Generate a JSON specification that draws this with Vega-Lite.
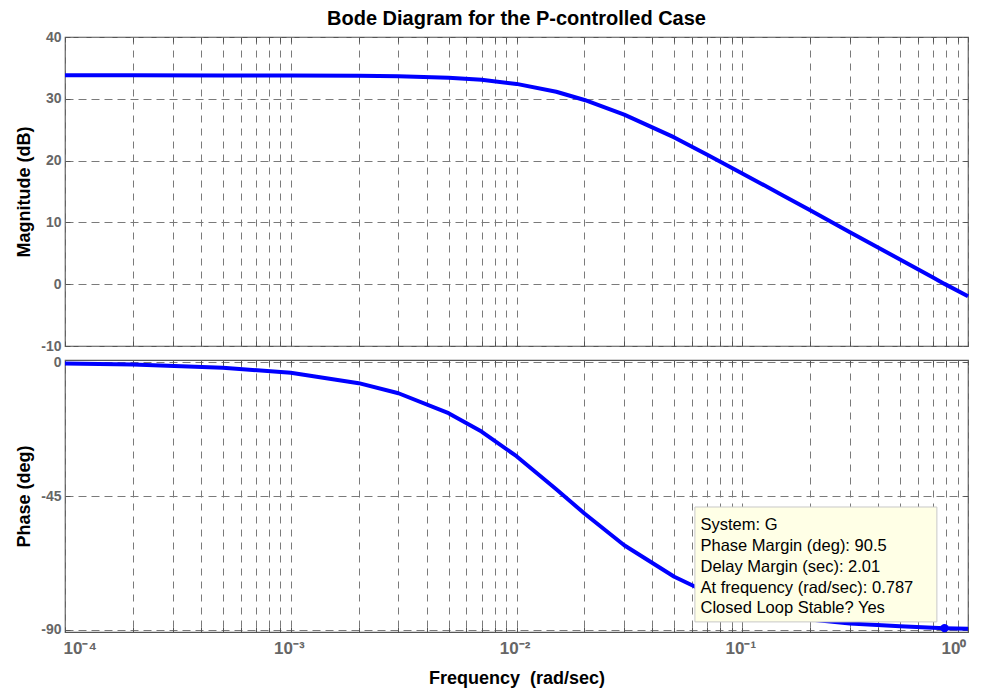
{
  "$schema": "https://vega.github.io/schema/vega-lite/v6.json",
  "background": "white",
  "padding": {"left": 15, "top": 8, "right": 5, "bottom": 5},
  "spacing": 14,
  "bounds": "flush",
  "datasets": {
    "bode": [
      {"w": 0.0001, "mag": 33.80, "phase": -0.4},
      {"w": 0.0002, "mag": 33.80, "phase": -0.7},
      {"w": 0.0005, "mag": 33.79, "phase": -1.8},
      {"w": 0.001, "mag": 33.78, "phase": -3.5},
      {"w": 0.002, "mag": 33.74, "phase": -7.0},
      {"w": 0.003, "mag": 33.66, "phase": -10.4},
      {"w": 0.005, "mag": 33.41, "phase": -17.1},
      {"w": 0.007, "mag": 33.07, "phase": -23.3},
      {"w": 0.01, "mag": 32.41, "phase": -31.6},
      {"w": 0.015, "mag": 31.14, "phase": -42.7},
      {"w": 0.02, "mag": 29.81, "phase": -50.9},
      {"w": 0.03, "mag": 27.45, "phase": -61.6},
      {"w": 0.05, "mag": 23.75, "phase": -72.2},
      {"w": 0.07, "mag": 20.95, "phase": -77.5},
      {"w": 0.1, "mag": 17.93, "phase": -81.6},
      {"w": 0.15, "mag": 14.45, "phase": -85.0},
      {"w": 0.2, "mag": 11.95, "phase": -86.6},
      {"w": 0.3, "mag": 8.40, "phase": -87.9},
      {"w": 0.5, "mag": 4.00, "phase": -88.9},
      {"w": 0.7, "mag": 1.10, "phase": -89.4},
      {"w": 0.787, "mag": 0.05, "phase": -89.5},
      {"w": 1, "mag": -1.96, "phase": -89.7}
    ],
    "box": [{"x1": 0.0617, "x2": 0.728, "y1": -48.7, "y2": -87.4}],
    "note": [{"w": 0.0653, "phase": -56.6, "label": "System: G\nPhase Margin (deg): 90.5\nDelay Margin (sec): 2.01\nAt frequency (rad/sec): 0.787\nClosed Loop Stable? Yes"}],
    "marker": [{"w": 0.787, "phase": -89.5}]
  },
  "config": {
    "font": "Liberation Sans",
    "view": {"stroke": "#555555", "strokeWidth": 1.2},
    "axis": {
      "domain": false,
      "labelFont": "Liberation Sans",
      "labelFontWeight": "bold",
      "labelFontSize": 14,
      "labelColor": "#666666",
      "titleFont": "Liberation Sans",
      "titleFontWeight": "bold",
      "titleFontSize": 18,
      "titleColor": "#000000",
      "gridColor": "#7a7a7a",
      "gridDash": [7, 6],
      "gridOpacity": 1,
      "gridWidth": 1,
      "tickSize": -5,
      "tickColor": "#555555",
      "tickWidth": 1,
      "labelPadding": 9,
      "titlePadding": 7,
      "labelOverlap": false,
      "labelBound": false
    }
  },
  "vconcat": [
    {
      "width": 903,
      "height": 309,
      "title": {"text": "Bode Diagram for the P-controlled Case", "fontSize": 20, "fontWeight": "bold", "color": "#000000", "font": "Liberation Sans", "anchor": "middle", "frame": "group", "offset": 1},
      "data": {"name": "bode"},
      "resolve": {"axis": {"x": "independent", "y": "independent"}},
      "layer": [
        {
          "mark": {"type": "line", "color": "#0000ff", "strokeWidth": 4, "strokeJoin": "round", "strokeCap": "butt"},
          "encoding": {
            "x": {"field": "w", "type": "quantitative",
              "scale": {"type": "log", "domain": [0.0001, 1], "nice": false},
              "axis": {"orient": "bottom", "title": null, "labels": false, "grid": true,
                "values": [0.0001,0.0002,0.0003,0.0004,0.0005,0.0006,0.0007,0.0008,0.0009,0.001,0.002,0.003,0.004,0.005,0.006,0.007,0.008,0.009,0.01,0.02,0.03,0.04,0.05,0.06,0.07,0.08,0.09,0.1,0.2,0.3,0.4,0.5,0.6,0.7,0.8,0.9,1]}},
            "y": {"field": "mag", "type": "quantitative",
              "scale": {"domain": [-10, 40], "nice": false, "zero": false},
              "axis": {"orient": "left", "title": "Magnitude (dB)", "values": [-10, 0, 10, 20, 30, 40], "gridDash": [8, 5], "labelExpr": "datum.value + ''"}}
          }
        },
        {
          "mark": {"type": "point", "opacity": 0},
          "encoding": {
            "x": {"field": "w", "type": "quantitative",
              "scale": {"type": "log", "domain": [0.0001, 1], "nice": false},
              "axis": {"orient": "top", "title": null, "labels": false, "grid": false,
                "values": [0.0001,0.0002,0.0003,0.0004,0.0005,0.0006,0.0007,0.0008,0.0009,0.001,0.002,0.003,0.004,0.005,0.006,0.007,0.008,0.009,0.01,0.02,0.03,0.04,0.05,0.06,0.07,0.08,0.09,0.1,0.2,0.3,0.4,0.5,0.6,0.7,0.8,0.9,1]}},
            "y": {"field": "mag", "type": "quantitative",
              "scale": {"domain": [-10, 40], "nice": false, "zero": false},
              "axis": {"orient": "right", "title": null, "labels": false, "grid": false, "values": [-10, 0, 10, 20, 30, 40]}}
          }
        }
      ]
    },
    {
      "width": 903,
      "height": 272,
      "resolve": {"axis": {"x": "independent", "y": "independent"}},
      "layer": [
        {
          "data": {"name": "bode"},
          "mark": {"type": "line", "color": "#0000ff", "strokeWidth": 4, "strokeJoin": "round", "strokeCap": "butt"},
          "encoding": {
            "x": {"field": "w", "type": "quantitative",
              "scale": {"type": "log", "domain": [0.0001, 1], "nice": false},
              "axis": {"orient": "bottom", "title": "Frequency\u00a0 (rad/sec)", "grid": true, "labelPadding": 13, "labelOffset": -2, "titlePadding": 13, "labelFontSize": 17,
                "labelExpr": "datum.value == 0.0001 ? '10⁻⁴' : datum.value == 0.001 ? '10⁻³' : datum.value == 0.01 ? '10⁻²' : datum.value == 0.1 ? '10⁻¹' : datum.value == 1 ? '10⁰' : ''",
                "values": [0.0001,0.0002,0.0003,0.0004,0.0005,0.0006,0.0007,0.0008,0.0009,0.001,0.002,0.003,0.004,0.005,0.006,0.007,0.008,0.009,0.01,0.02,0.03,0.04,0.05,0.06,0.07,0.08,0.09,0.1,0.2,0.3,0.4,0.5,0.6,0.7,0.8,0.9,1]}},
            "y": {"field": "phase", "type": "quantitative",
              "scale": {"domain": [-90.8, 0.8], "nice": false, "zero": false},
              "axis": {"orient": "left", "title": "Phase (deg)", "values": [-90, -45, 0], "gridDash": [8, 5], "labelExpr": "datum.value + ''"}}
          }
        },
        {
          "data": {"name": "bode"},
          "mark": {"type": "point", "opacity": 0},
          "encoding": {
            "x": {"field": "w", "type": "quantitative",
              "scale": {"type": "log", "domain": [0.0001, 1], "nice": false},
              "axis": {"orient": "top", "title": null, "labels": false, "grid": false,
                "values": [0.0001,0.0002,0.0003,0.0004,0.0005,0.0006,0.0007,0.0008,0.0009,0.001,0.002,0.003,0.004,0.005,0.006,0.007,0.008,0.009,0.01,0.02,0.03,0.04,0.05,0.06,0.07,0.08,0.09,0.1,0.2,0.3,0.4,0.5,0.6,0.7,0.8,0.9,1]}},
            "y": {"field": "phase", "type": "quantitative",
              "scale": {"domain": [-90.8, 0.8], "nice": false, "zero": false},
              "axis": {"orient": "right", "title": null, "labels": false, "grid": false, "values": [-90, -45, 0]}}
          }
        },
        {
          "data": {"name": "marker"},
          "mark": {"type": "point", "filled": true, "color": "#0000ff", "opacity": 1, "size": 70, "shape": "circle"},
          "encoding": {
            "x": {"field": "w", "type": "quantitative", "scale": {"type": "log", "domain": [0.0001, 1], "nice": false}, "axis": null},
            "y": {"field": "phase", "type": "quantitative", "scale": {"domain": [-90.8, 0.8], "nice": false, "zero": false}, "axis": null}
          }
        },
        {
          "data": {"name": "box"},
          "mark": {"type": "rect", "fill": "#ffffe6", "stroke": "#c8c8c8", "strokeWidth": 1},
          "encoding": {
            "x": {"field": "x1", "type": "quantitative", "scale": {"type": "log", "domain": [0.0001, 1], "nice": false}, "axis": null},
            "x2": {"field": "x2"},
            "y": {"field": "y1", "type": "quantitative", "scale": {"domain": [-90.8, 0.8], "nice": false, "zero": false}, "axis": null},
            "y2": {"field": "y2"}
          }
        },
        {
          "data": {"name": "note"},
          "mark": {"type": "text", "align": "left", "baseline": "alphabetic", "lineBreak": "\n", "lineHeight": 20.7, "fontSize": 16.5, "font": "Liberation Sans", "color": "#000000"},
          "encoding": {
            "x": {"field": "w", "type": "quantitative", "scale": {"type": "log", "domain": [0.0001, 1], "nice": false}, "axis": null},
            "y": {"field": "phase", "type": "quantitative", "scale": {"domain": [-90.8, 0.8], "nice": false, "zero": false}, "axis": null},
            "text": {"field": "label"}
          }
        }
      ]
    }
  ]
}
